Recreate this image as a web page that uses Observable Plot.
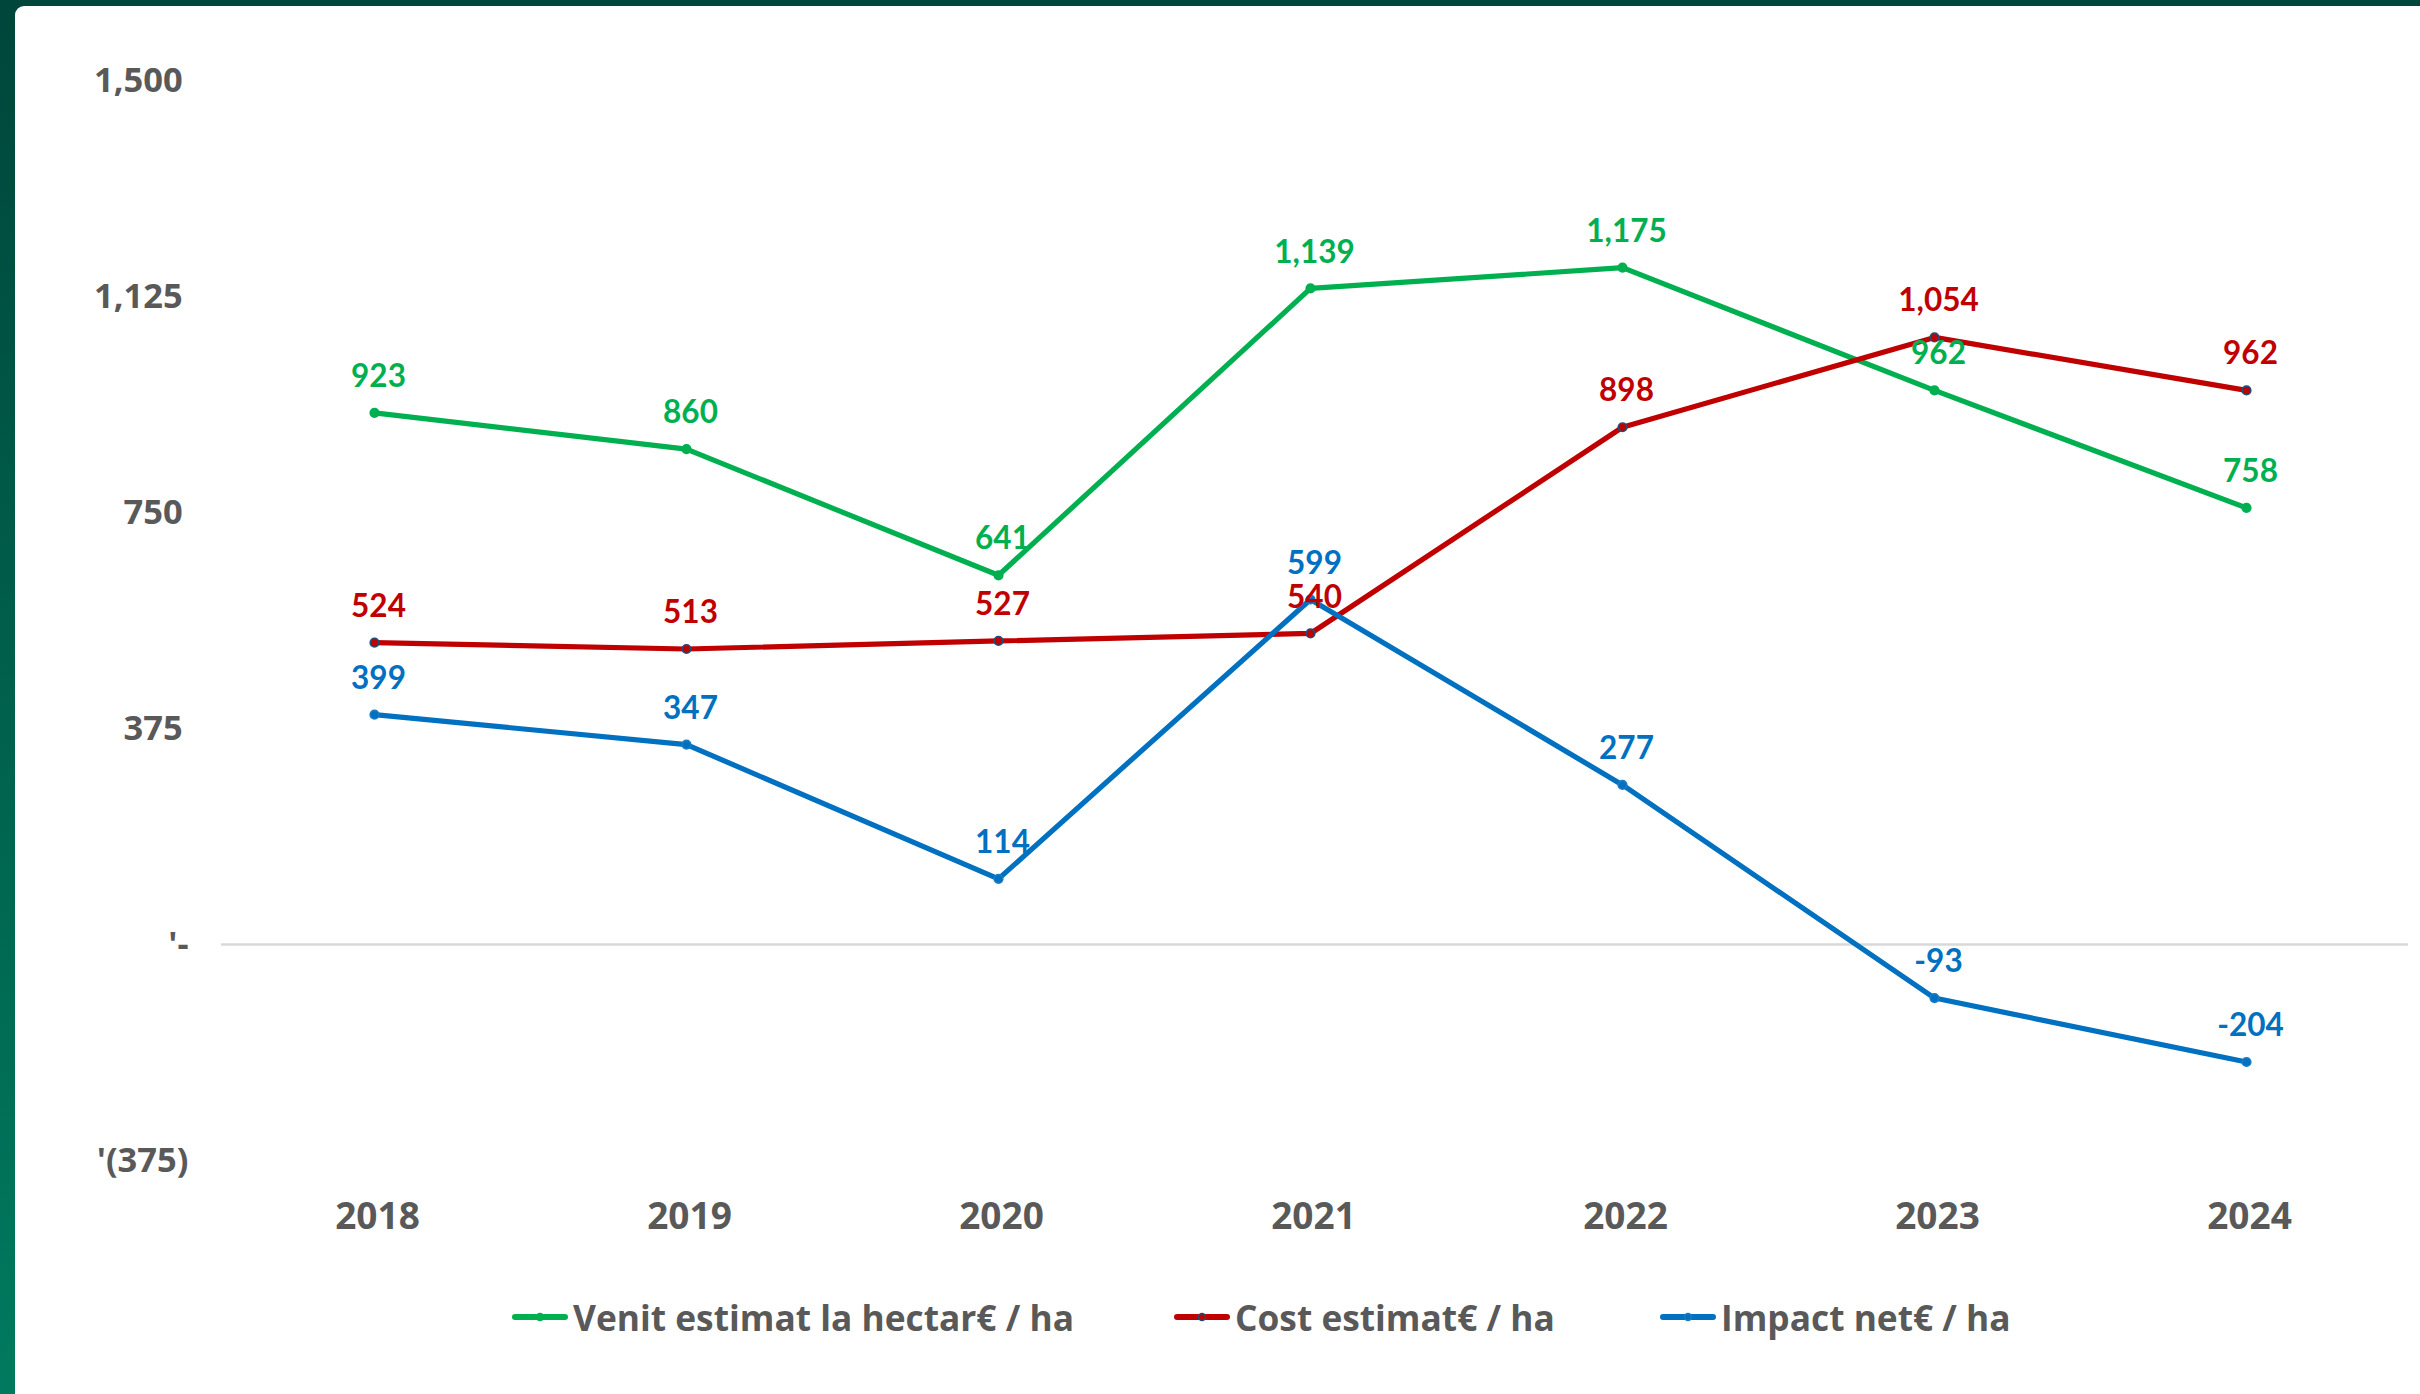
<!DOCTYPE html>
<html>
<head>
<meta charset="utf-8">
<script src="https://cdn.jsdelivr.net/npm/d3@7"></script>
<script src="https://cdn.jsdelivr.net/npm/@observablehq/plot@0.6"></script>
<style>
  html, body { margin: 0; padding: 0; width: 2420px; height: 1394px; overflow: hidden; }
  body { background: linear-gradient(180deg, #00463a 0%, #005e4a 45%, #007a5e 100%); position: relative; }
  #card { position: absolute; left: 15px; top: 6px; right: 0; bottom: 0; background: #fff; border-top-left-radius: 9px; }
  #chart { position: absolute; left: 0; top: 0; }
  #legend { position: absolute; left: 0; top: 1292px; width: 2420px; height: 50px; font-family: "Open Sans", sans-serif; font-weight: 700; font-size: 35.3px; color: #595959; white-space: nowrap; }
  .item { position: absolute; top: 0; display: flex; align-items: center; height: 50px; }
  .item svg { margin-right: 5px; }
</style>
</head>
<body>
<div id="card"></div>
<div id="chart"></div>
<div id="legend"></div>
<script>
const years = ["2018", "2019", "2020", "2021", "2022", "2023", "2024"];
const seriesNames = ["Venit estimat la hectar€ / ha", "Cost estimat€ / ha", "Impact net€ / ha"];
const venit = [923, 860, 641, 1139, 1175, 962, 758];
const cost = [524, 513, 527, 540, 898, 1054, 962];
const impact = [399, 347, 114, 599, 277, -93, -204];
const yTicks = [-375, 0, 375, 750, 1125, 1500];
const colors = ["#00B050", "#C00000", "#0070C0"];
const markerStroke = ["#00B050", "#1F4E79", "#1A7DC4"];
const legendLeft = [512, 1174, 1660];

const valuesBySeries = [venit, cost, impact];
const data = [];
seriesNames.forEach((s, i) => {
  years.forEach((y, j) => data.push({series: s, year: y, value: valuesBySeries[i][j]}));
});

const fmtN = v => (v < 0 ? "-" : "") + d3.format(",")(Math.abs(v));
const fmtY = v => v === 0 ? "'-" : v < 0 ? "'(" + d3.format(",")(-v) + ")" : d3.format(",")(v) + "\u2009";

const plot = Plot.plot({
  width: 2420,
  height: 1262,
  marginLeft: 221,
  marginRight: 12,
  marginTop: 80,
  marginBottom: 102,
  style: {background: "transparent", fontFamily: "'Open Sans', sans-serif", overflow: "visible"},
  x: {type: "point", domain: years, padding: 0.5, range: [216, 2403]},
  y: {domain: [-375, 1500]},
  color: {domain: seriesNames, range: colors},
  marks: [
    Plot.ruleY([0], {stroke: "#d9d9d9", strokeWidth: 2.5}),
    Plot.axisY({ticks: yTicks, tickSize: 0, tickPadding: 33, tickFormat: fmtY, fontSize: 34.5, fontWeight: "bold", fill: "#595959", label: null}),
    Plot.axisX({tickSize: 0, tickPadding: 42, dx: 3, fontSize: 37, fontWeight: "bold", fill: "#595959", label: null}),
    Plot.line(data, {x: "year", y: "value", z: "series", stroke: "series", strokeWidth: 5.2, strokeLinejoin: "miter", strokeLinecap: "butt"}),
    Plot.dot(data, {x: "year", y: "value", r: 4.3, fill: "series", stroke: d => markerStroke[seriesNames.indexOf(d.series)], strokeWidth: 1.6}),
    Plot.text(data, {x: "year", y: "value", text: d => fmtN(d.value), fill: "series", dy: -36, dx: 4, fontSize: 31.5, fontWeight: "bold", fontFamily: "Lato, sans-serif"})
  ]
});
document.getElementById("chart").appendChild(plot);

const legend = document.getElementById("legend");
seriesNames.forEach((s, i) => {
  const item = document.createElement("div");
  item.className = "item";
  item.style.left = legendLeft[i] + "px";
  const ns = "http://www.w3.org/2000/svg";
  const sv = document.createElementNS(ns, "svg");
  sv.setAttribute("width", 56); sv.setAttribute("height", 14);
  const ln = document.createElementNS(ns, "line");
  ln.setAttribute("x1", 3); ln.setAttribute("x2", 53); ln.setAttribute("y1", 7); ln.setAttribute("y2", 7);
  ln.setAttribute("stroke", colors[i]); ln.setAttribute("stroke-width", 6); ln.setAttribute("stroke-linecap", "round");
  const c = document.createElementNS(ns, "circle");
  c.setAttribute("cx", 28); c.setAttribute("cy", 7); c.setAttribute("r", 3.5);
  c.setAttribute("fill", colors[i]); c.setAttribute("stroke", markerStroke[i]); c.setAttribute("stroke-width", 1.5);
  sv.appendChild(ln); sv.appendChild(c);
  const t = document.createElement("span");
  t.textContent = s;
  item.appendChild(sv); item.appendChild(t);
  legend.appendChild(item);
});
</script>
</body>
</html>
